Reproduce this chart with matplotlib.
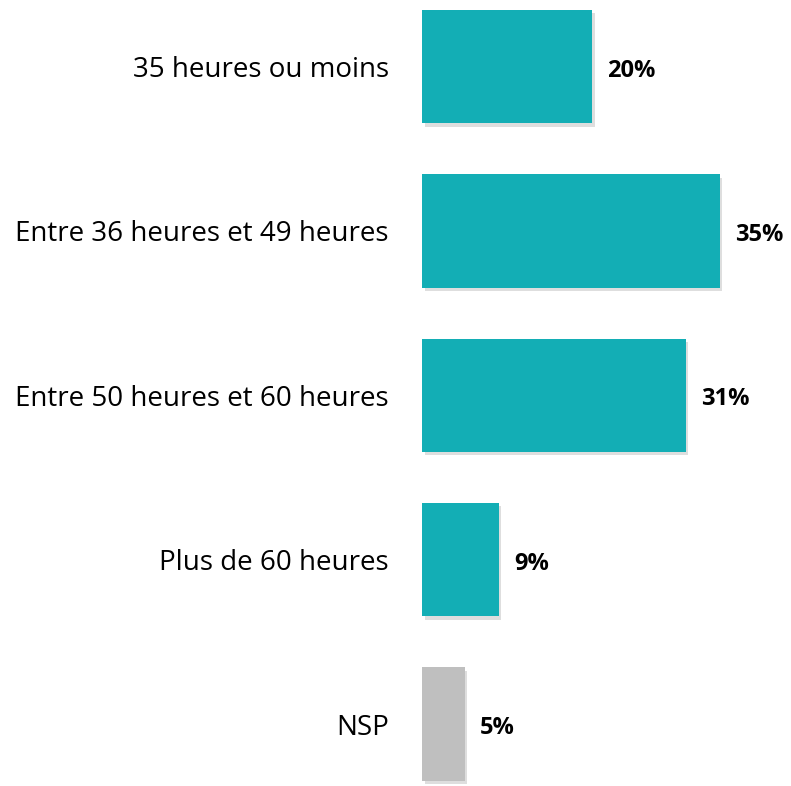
import matplotlib
matplotlib.use("Agg")
import matplotlib.pyplot as plt
import matplotlib.patheffects as pe

categories = ["35 heures ou moins", "Entre 36 heures et 49 heures",
              "Entre 50 heures et 60 heures", "Plus de 60 heures", "NSP"]
values = [20, 35, 31, 9, 5]
colors = ["#13aeb5", "#13aeb5", "#13aeb5", "#13aeb5", "#bfbfbf"]

plt.rcParams['font.family'] = ['Open Sans', 'DejaVu Sans']

fig = plt.figure(figsize=(7.91, 7.86), dpi=100)
ax = fig.add_axes([422 / 791, 0, 369 / 791, 1])

pos = list(range(len(categories)))
bars = ax.barh(pos, values, height=0.69, color=colors, zorder=2)
for b in bars:
    b.set_path_effects([pe.SimplePatchShadow(offset=(2, -2.5), shadow_rgbFace="#c8c8c8", alpha=0.6),
                        pe.Normal()])

ax.set_xlim(0, 369 / 8.5)
ax.set_ylim((786 - 66.5) / 164.4, -66.5 / 164.4)

for i, v in enumerate(values):
    ax.annotate(f"{v}%", (v, i), xytext=(11, -3), textcoords="offset points",
                va="center", ha="left", fontsize=17, fontweight="bold")

ax.set_yticks(pos)
ax.set_yticklabels(categories, fontsize=20)
ax.tick_params(axis="y", length=0, pad=24)
ax.set_xticks([])
for s in ax.spines.values():
    s.set_visible(False)

fig.savefig("out.png", dpi=100)
